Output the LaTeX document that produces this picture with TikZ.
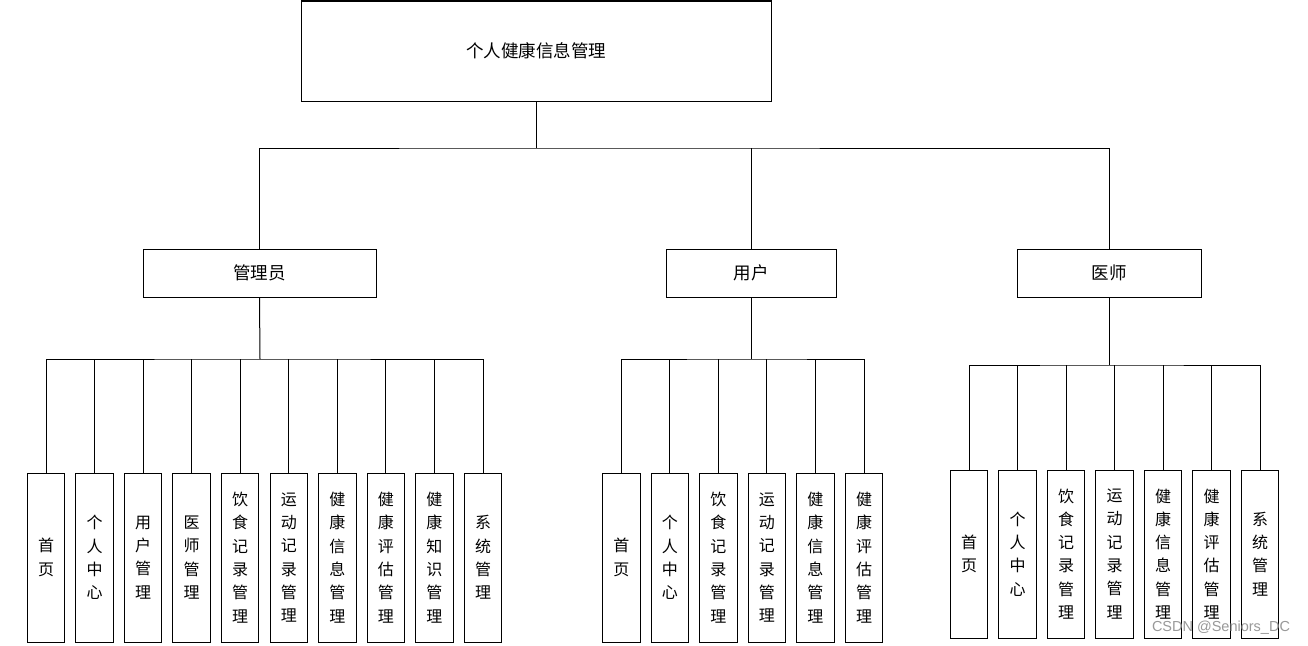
\documentclass[tikz,border=0pt]{standalone}
\usepackage{fontspec}
\newfontfamily\cjk{Noto Sans CJK SC}
\setmainfont{Liberation Sans}
\begin{document}
\begin{tikzpicture}[x=1pt,y=-1pt,line width=1pt,
  box/.style={draw=black,fill=white,inner sep=0pt,align=center},
  topbox/.style={box,minimum width=470pt,minimum height=100pt,font=\cjk\fontsize{17.5}{21}\selectfont},
  rolebox/.style={box,minimum height=48pt,font=\cjk\fontsize{17.5}{21}\selectfont},
  leafbox/.style={box,minimum width=37.5pt,font=\cjk\fontsize{16}{23.3}\selectfont},
  link/.style={draw=black,line width=1pt}]
\useasboundingbox (0,0) rectangle (1308,645);
\fill[white] (0,0) rectangle (1308,645);
% top
\node[topbox] (top) at (536,51) {个人健康信息管理};
% roles
\node[rolebox,minimum width=233pt] (adm) at (259.5,273) {管理员};
\node[rolebox,minimum width=170pt] (usr) at (751,273) {用户};
\node[rolebox,minimum width=184pt] (doc) at (1109,273) {医师};
\coordinate (bus) at (536,148);
\draw[link] (top.south) -- (bus);
\draw[link] (adm.north) |- (bus) -| (doc.north);
\draw[link] (usr.north) -- (usr.north |- bus);
% admin leaves
\foreach \t [count=\i] in {{首\\页},{个\\人\\中\\心},{用\\户\\管\\理},{医\\师\\管\\理},{饮\\食\\记\\录\\管\\理},{运\\动\\记\\录\\管\\理},{健\\康\\信\\息\\管\\理},{健\\康\\评\\估\\管\\理},{健\\康\\知\\识\\管\\理},{系\\统\\管\\理}}
  \node[leafbox,minimum height=169pt] (a\i) at ({46+48.56*(\i-1)},557.5) {\t};
\coordinate (abus) at (260,359);
\draw[link] (adm.south) -- (abus);
\draw[link] (a1.north) |- (abus) -| (a10.north);
\foreach \i in {2,...,9} \draw[link] (a\i.north) -- (a\i.north |- abus);
% user leaves
\foreach \t [count=\i] in {{首\\页},{个\\人\\中\\心},{饮\\食\\记\\录\\管\\理},{运\\动\\记\\录\\管\\理},{健\\康\\信\\息\\管\\理},{健\\康\\评\\估\\管\\理}}
  \node[leafbox,minimum height=169pt] (u\i) at ({621.3+48.54*(\i-1)},557.5) {\t};
\coordinate (ubus) at (751,359);
\draw[link] (usr.south) -- (ubus);
\draw[link] (u1.north) |- (ubus) -| (u6.north);
\foreach \i in {2,...,5} \draw[link] (u\i.north) -- (u\i.north |- ubus);
% doctor leaves
\foreach \t [count=\i] in {{首\\页},{个\\人\\中\\心},{饮\\食\\记\\录\\管\\理},{运\\动\\记\\录\\管\\理},{健\\康\\信\\息\\管\\理},{健\\康\\评\\估\\管\\理},{系\\统\\管\\理}}
  \node[leafbox,minimum height=168pt] (d\i) at ({969+48.5*(\i-1)},554) {\t};
\coordinate (dbus) at (1109,365);
\draw[link] (doc.south) -- (dbus);
\draw[link] (d1.north) |- (dbus) -| (d7.north);
\foreach \i in {2,...,6} \draw[link] (d\i.north) -- (d\i.north |- dbus);
% watermark
\node[text=black!40,font=\fontsize{14.5}{16}\selectfont,inner sep=0pt] (wm) at (1221,628) {CSDN @Seniors\_DC};
\end{tikzpicture}
\end{document}
